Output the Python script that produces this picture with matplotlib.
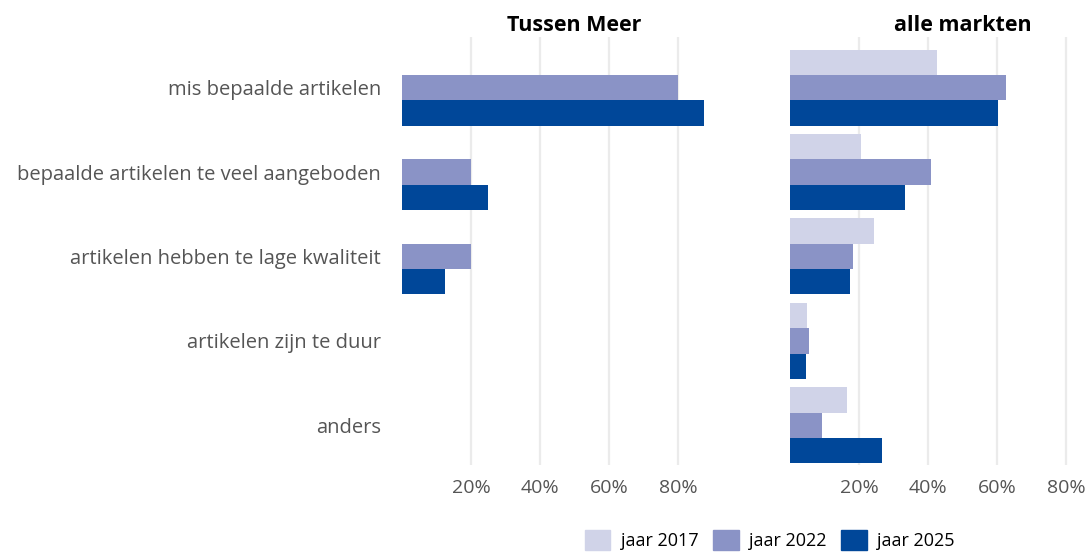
"""Grouped horizontal bars in two facets: Tussen Meer vs alle markten."""

import matplotlib.patches as mpatches
import matplotlib.pyplot as plt
import numpy as np

plt.rcParams["font.family"] = ["Open Sans", "DejaVu Sans"]

CATEGORIES = [
    "mis bepaalde artikelen",
    "bepaalde artikelen te veel aangeboden",
    "artikelen hebben te lage kwaliteit",
    "artikelen zijn te duur",
    "anders",
]
SERIES = ["jaar 2017", "jaar 2022", "jaar 2025"]
COLORS = ["#D0D3E8", "#8A93C6", "#004799"]

# fractions, None = no bar
TUSSEN_MEER = [
    [None, None, None, None, None],          # 2017
    [0.80, 0.20, 0.20, None, None],          # 2022
    [0.875, 0.25, 0.125, None, None],        # 2025
]
ALLE_MARKTEN = [
    [0.425, 0.205, 0.243, 0.049, 0.165],     # 2017
    [0.625, 0.41, 0.183, 0.055, 0.093],      # 2022
    [0.603, 0.333, 0.174, 0.046, 0.267],     # 2025
]
TICKS = [0.2, 0.4, 0.6, 0.8]

W, H = 1089, 554
LABEL_GREY = "#555555"


def panel(fig, left_px, title, data):
    ax = fig.add_axes([left_px / W, (H - 465) / H, 345 / W, 428 / H])
    y = np.arange(len(CATEGORIES))
    bh = 0.3
    for k, (vals, color) in enumerate(zip(data, COLORS)):
        v = [np.nan if x is None else x for x in vals]
        ax.barh(y + (k - 1) * bh, v, height=bh, color=color, zorder=2)
    ax.set_xlim(0, 1.0)
    ax.set_ylim(4.47, -0.6)
    ax.set_xticks(TICKS)
    ax.set_xticklabels([f"{int(t * 100)}%" for t in TICKS])
    ax.grid(axis="x", color="#EBEBEB", linewidth=1.6, zorder=0)
    for s in ax.spines.values():
        s.set_visible(False)
    ax.tick_params(length=0, labelsize=14, labelcolor=LABEL_GREY, pad=10)
    ax.set_title(title, fontsize=15.5, fontweight="bold", pad=4)
    return ax


def main():
    fig = plt.figure(figsize=(W / 100, H / 100), dpi=100)

    ax1 = panel(fig, 402, "Tussen Meer", TUSSEN_MEER)
    ax1.set_yticks(np.arange(len(CATEGORIES)))
    ax1.set_yticklabels(CATEGORIES)
    ax1.tick_params(axis="y", labelsize=14.5, pad=15)

    ax2 = panel(fig, 790, "alle markten", ALLE_MARKTEN)
    ax2.set_yticks([])

    handles = [mpatches.Patch(color=c, label=s) for s, c in zip(SERIES, COLORS)]
    fig.legend(handles=handles, loc="center", bbox_to_anchor=(770 / W, 1 - 540 / H),
               ncol=3, frameon=False, fontsize=13, handlelength=1.4, handleheight=1.4,
               handletextpad=0.6, columnspacing=0.8)

    fig.savefig("out.png", dpi=100)
    plt.close(fig)


if __name__ == "__main__":
    main()
